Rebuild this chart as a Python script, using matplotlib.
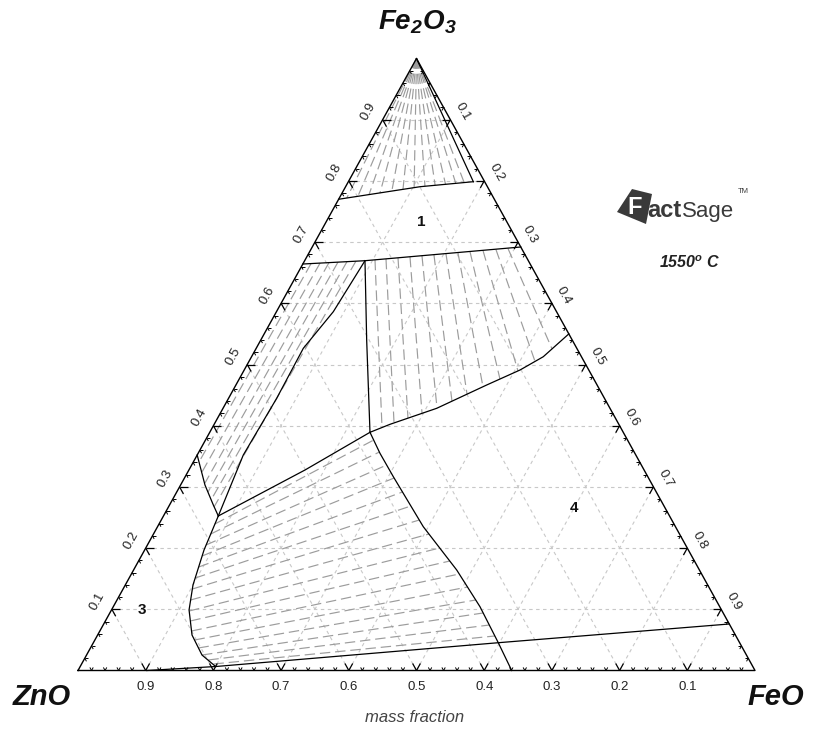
import numpy as np
import matplotlib
matplotlib.use("Agg")
import matplotlib.pyplot as plt
from matplotlib.patches import Polygon

plt.rcParams['font.family'] = ['Liberation Sans', 'DejaVu Sans']
plt.rcParams['mathtext.fontset'] = 'custom'
plt.rcParams['mathtext.rm'] = 'Liberation Sans:bold:italic'
plt.rcParams['mathtext.it'] = 'Liberation Sans:bold:italic'
plt.rcParams['mathtext.bf'] = 'Liberation Sans:bold:italic'
plt.rcParams['lines.scale_dashes'] = False

# ---------------- data (mass fractions: FeO, Fe2O3; ZnO = 1 - FeO - Fe2O3) -------------
grid_vals = [0.1, 0.2, 0.3, 0.4, 0.5, 0.6, 0.7, 0.8, 0.9]
tick_labels = ['0.1', '0.2', '0.3', '0.4', '0.5', '0.6', '0.7', '0.8', '0.9']

# phase boundaries
b1_feo = [0.0, 0.110, 0.1846];            b1_fe2o3 = [0.770, 0.7905, 0.7987]
b_apex_feo = [0.0, 0.1846];               b_apex_fe2o3 = [1.0, 0.7987]
b2_feo = [0.0, 0.0891, 0.308];            b2_fe2o3 = [0.6642, 0.6696, 0.692]
b3_feo = [0.0891, 0.1564, 0.2367];        b3_fe2o3 = [0.6696, 0.540, 0.3892]
b4_feo = [0.2367, 0.2598, 0.3156, 0.3704, 0.4074, 0.4309, 0.45]
b4_fe2o3 = [0.3892, 0.4023, 0.4284, 0.4665, 0.491, 0.5127, 0.55]
b5_feo = [0.2367, 0.1715, 0.081];         b5_fe2o3 = [0.3892, 0.3276, 0.2525]
b6_feo = [0.081, 0.0681, 0.0711, 0.0696, 0.084, 0.0891]
b6_fe2o3 = [0.2525, 0.3521, 0.4448, 0.5265, 0.5863, 0.6696]
b7_feo = [0.0, 0.036, 0.0647, 0.081];     b7_fe2o3 = [0.3521, 0.3031, 0.2704, 0.2525]
b8_feo = [0.081, 0.0877, 0.1, 0.1146, 0.1394, 0.1705, 0.2001]
b8_fe2o3 = [0.2525, 0.1969, 0.1397, 0.0989, 0.058, 0.0253, 0.0065]
b9_feo = [0.1015, 0.2001];                b9_fe2o3 = [0.0, 0.0065]
b10_feo = [0.2001, 0.5981, 0.924];        b10_fe2o3 = [0.0065, 0.0454, 0.076]
b11_feo = [0.2367, 0.2686, 0.3074, 0.3925, 0.4773, 0.5417, 0.5981, 0.6406]
b11_fe2o3 = [0.3892, 0.3549, 0.3167, 0.235, 0.1642, 0.1042, 0.0454, 0.0]
boundaries = [(b1_feo, b1_fe2o3), (b_apex_feo, b_apex_fe2o3), (b2_feo, b2_fe2o3),
              (b3_feo, b3_fe2o3), (b4_feo, b4_fe2o3), (b5_feo, b5_fe2o3),
              (b6_feo, b6_fe2o3), (b7_feo, b7_fe2o3), (b8_feo, b8_fe2o3),
              (b9_feo, b9_fe2o3), (b10_feo, b10_fe2o3), (b11_feo, b11_fe2o3)]

# tie-lines: (FeO, Fe2O3) at each end
tie_apex_feo = [0.011, 0.026, 0.041, 0.056, 0.072, 0.087, 0.102, 0.117, 0.131, 0.146, 0.160, 0.172]
tie_apex_fe2o3 = [0.772, 0.775, 0.778, 0.780, 0.783, 0.786, 0.789, 0.791, 0.793, 0.794, 0.796, 0.797]

tie_up_a_feo = [0.1032, 0.1187, 0.1356, 0.1525, 0.1693, 0.1862, 0.2031, 0.2200, 0.2369, 0.2552, 0.2734, 0.2904]
tie_up_a_fe2o3 = [0.6710, 0.6725, 0.6742, 0.6758, 0.6776, 0.6792, 0.6809, 0.6825, 0.6843, 0.6861, 0.6879, 0.6895]
tie_up_b_feo = [0.2505, 0.2645, 0.2812, 0.2980, 0.3160, 0.3324, 0.3489, 0.3663, 0.3851, 0.4051, 0.4225, 0.4372]
tie_up_b_fe2o3 = [0.3971, 0.4046, 0.4124, 0.4203, 0.4286, 0.4400, 0.4515, 0.4637, 0.4763, 0.4895, 0.5051, 0.5258]

tie_left_a_feo = [0.0118, 0.0247, 0.0375, 0.0504, 0.0633, 0.0761]
tie_left_a_fe2o3 = [0.6649, 0.6657, 0.6665, 0.6673, 0.6681, 0.6690]
tie_left_b_feo = [0.0084, 0.0210, 0.0344, 0.0462, 0.0572, 0.0673]
tie_left_b_fe2o3 = [0.3407, 0.3243, 0.3064, 0.2917, 0.2786, 0.2672]

tie_low_a_feo = [0.0825, 0.0845, 0.0867, 0.0898, 0.0937, 0.0975, 0.1024, 0.1087,
                 0.1155, 0.1255, 0.1354, 0.1472, 0.1596, 0.1705, 0.1840, 0.1948]
tie_low_a_fe2o3 = [0.2394, 0.2230, 0.2051, 0.1871, 0.1691, 0.1511, 0.1332, 0.1152,
                   0.0972, 0.0809, 0.0645, 0.0498, 0.0368, 0.0253, 0.0172, 0.0106]
tie_low_b_feo = [0.2485, 0.2667, 0.2881, 0.3096, 0.3335, 0.3573, 0.3811, 0.4068,
                 0.4342, 0.4597, 0.4843, 0.5071, 0.5298, 0.5515, 0.5703, 0.5876]
tie_low_b_fe2o3 = [0.3766, 0.3570, 0.3358, 0.3145, 0.2917, 0.2688, 0.2459, 0.2230,
                   0.2002, 0.1789, 0.1577, 0.1364, 0.1152, 0.0940, 0.0743, 0.0564]

region_labels = ['1', '3', '4']
region_feo = [0.14, 0.045, 0.60]
region_fe2o3 = [0.733, 0.099, 0.265]

# ---------------- geometry ----------------
P_ZNO = (78.0, 670.5)
P_FEO = (755.0, 670.5)
P_FE2O3 = (416.5, 58.5)


def tern(feo, fe2o3):
    feo = np.asarray(feo, float)
    f3 = np.asarray(fe2o3, float)
    zno = 1 - feo - f3
    x = zno * P_ZNO[0] + feo * P_FEO[0] + f3 * P_FE2O3[0]
    y = zno * P_ZNO[1] + feo * P_FEO[1] + f3 * P_FE2O3[1]
    return x, y


fig = plt.figure(figsize=(8.21, 7.31), dpi=100)
ax = fig.add_axes([0, 0, 1, 1])
ax.set_xlim(0, 821)
ax.set_ylim(731, 0)
ax.axis('off')

# grid
gkw = dict(color='#c8c8c8', lw=0.8, dashes=(2.5, 2.5), zorder=1)
for v in grid_vals:
    ax.plot(*tern([0, 1 - v], [v, v]), **gkw)
    ax.plot(*tern([v, v], [0, 1 - v]), **gkw)
    ax.plot(*tern([1 - v, 0], [0, 1 - v]), **gkw)

# tie-lines
tkw = dict(color='#9c9c9c', lw=0.85, dashes=(7.5, 3.5), zorder=2)
for f, g in zip(tie_apex_feo, tie_apex_fe2o3):
    ax.plot(*tern([0, f], [1, g]), **tkw)
for a, b, c, d in zip(tie_up_a_feo, tie_up_a_fe2o3, tie_up_b_feo, tie_up_b_fe2o3):
    ax.plot(*tern([a, c], [b, d]), **tkw)
for a, b, c, d in zip(tie_left_a_feo, tie_left_a_fe2o3, tie_left_b_feo, tie_left_b_fe2o3):
    ax.plot(*tern([a, c], [b, d]), **tkw)
for a, b, c, d in zip(tie_low_a_feo, tie_low_a_fe2o3, tie_low_b_feo, tie_low_b_fe2o3):
    ax.plot(*tern([a, c], [b, d]), **tkw)

# boundaries
for f, g in boundaries:
    ax.plot(*tern(f, g), color='black', lw=0.9, zorder=4)

# triangle
ax.plot(*tern([0, 1, 0, 0], [0, 0, 1, 0]), color='black', lw=1.0, zorder=5)


# ticks
def unit(p0, p1):
    d = np.array(p1) - np.array(p0)
    return d / np.hypot(*d)


edges = {
    'bottom': [((0, 1), (-1, 1))],
    'left': [((1, 0), (1, -1))],
    'right': [((-1, 0), (0, -1))],
}
for k in range(1, 50):
    v = k * 0.02
    major = (k % 5 == 0)
    L = 8.0 if major else 3.5
    lw = 0.9 if major else 0.7
    pts = {
        'bottom': (v, 0.0),
        'left': (0.0, v),
        'right': (1 - v, v),
    }
    for side, (feo, f3) in pts.items():
        p = np.array(tern(feo, f3))
        for dfe, df3 in edges[side][0]:
            q = np.array(tern(feo + 0.01 * dfe, f3 + 0.01 * df3))
            u = unit(p, q)
            ax.plot([p[0], p[0] + L * u[0]], [p[1], p[1] + L * u[1]],
                    color='black', lw=lw, zorder=5, solid_capstyle='butt')

# tick labels
tfs = 9.5
for v, lab in zip(grid_vals, tick_labels):
    # bottom: ZnO fraction
    x, y = tern(1 - v, 0)
    ax.text(x, y + 17, lab, ha='center', va='center', fontsize=tfs, color='#222222')
    # left: Fe2O3 fraction
    x, y = tern(0, v)
    ax.text(x - 14, y - 8, lab, ha='center', va='center', fontsize=tfs,
            rotation=61, color='#222222', rotation_mode='anchor')
    # right: FeO fraction
    x, y = tern(v, 1 - v)
    ax.text(x + 12, y - 8, lab, ha='center', va='center', fontsize=tfs,
            rotation=-61, color='#222222', rotation_mode='anchor')

# region labels
for lab, f, g in zip(region_labels, region_feo, region_fe2o3):
    x, y = tern(f, g)
    ax.text(x, y, lab, ha='center', va='center', fontsize=11, fontweight='bold', color='#111111')

# vertex labels
ax.text(417, 22, r'Fe$_2$O$_3$', ha='center', va='center', fontsize=20,
        fontweight='bold', fontstyle='italic', color='#111111')
ax.text(42, 697, 'ZnO', ha='center', va='center', fontsize=21,
        fontweight='bold', fontstyle='italic', color='#111111')
ax.text(776, 697, 'FeO', ha='center', va='center', fontsize=21,
        fontweight='bold', fontstyle='italic', color='#111111')
ax.text(415, 718, 'mass fraction', ha='center', va='center', fontsize=12,
        fontstyle='italic', color='#444444')

# FactSage logo
ax.add_patch(Polygon([(617, 212), (632, 189), (652, 194), (646, 224)], closed=True,
                     facecolor='#3a3a3a', edgecolor='none', zorder=6))
ax.text(635, 208, 'F', ha='center', va='center', fontsize=17, fontweight='bold',
        color='white', zorder=7)
ax.text(647, 217, 'act', ha='left', va='baseline', fontsize=17, fontweight='bold',
        color='#3a3a3a', zorder=7)
ax.text(682, 217, 'Sage', ha='left', va='baseline', fontsize=16,
        color='#3a3a3a', zorder=7)
ax.text(738, 193, 'TM', ha='left', va='baseline', fontsize=5.5, color='#3a3a3a', zorder=7)
ax.text(690, 263, r'1550$^o$ C', ha='center', va='center', fontsize=11.5,
        fontweight='bold', fontstyle='italic', color='#222222')

fig.savefig('out.png', dpi=100)
